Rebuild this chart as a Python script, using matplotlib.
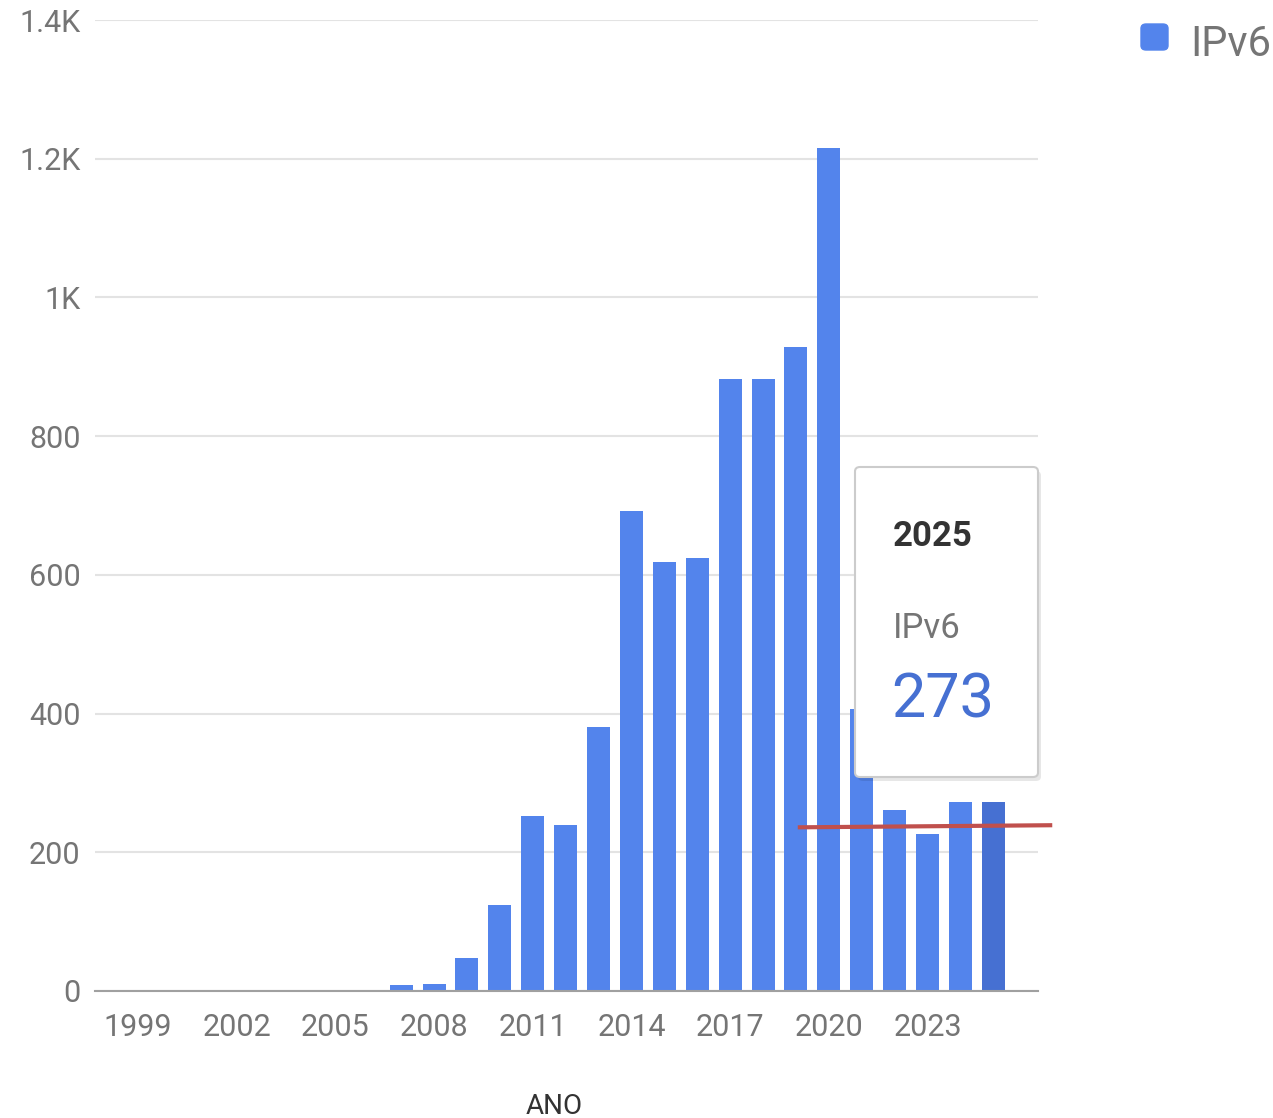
import matplotlib.pyplot as plt
from matplotlib.patches import FancyBboxPatch

plt.rcParams['font.family'] = ['Roboto', 'DejaVu Sans']

years = list(range(1999, 2026))
ipv6 = [0, 0, 0, 0, 0, 0, 0, 0, 9, 10, 47, 124, 252, 239, 380, 692, 618, 624,
        882, 883, 928, 1215, 406, 261, 226, 272, 273]
tick_years = list(range(1999, 2024, 3))
y_ticks = [0, 200, 400, 600, 800, 1000, 1200, 1400]
y_labels = ['0', '200', '400', '600', '800', '1K', '1.2K', '1.4K']

fig = plt.figure(figsize=(12.73, 11.18), dpi=100)
ax = fig.add_axes([0.0746, 0.1136, 0.7408, 0.8685])

colors = ['#5384ec'] * len(years)
colors[-1] = '#4670d2'
ax.bar(years, ipv6, width=0.7, color=colors, zorder=2)

ax.set_xlim(1997.69, 2026.36)
ax.set_ylim(0, 1400)
ax.set_yticks(y_ticks)
ax.set_yticklabels(y_labels)
ax.set_xticks(tick_years)
ax.tick_params(axis='both', length=0, labelsize=22, colors='#757575')
ax.tick_params(axis='y', pad=10.5)
ax.tick_params(axis='x', pad=16)
ax.grid(axis='y', color='#e3e3e3', linewidth=1.5, zorder=0)
for s in ['top', 'right', 'left']:
    ax.spines[s].set_visible(False)
ax.spines['bottom'].set_color('#a0a0a0')
ax.spines['bottom'].set_linewidth(1.5)
fig.text(554 / 1273, 1 - 1107 / 1118, 'ANO', fontsize=20, color='#333333',
         ha='center', va='center')

# legend
fig.patches.append(FancyBboxPatch((1141 / 1273, 1 - 50 / 1118), 27 / 1273, 26 / 1118,
                                  boxstyle='round,pad=0,rounding_size=0.004',
                                  transform=fig.transFigure, color='#5384ec'))
fig.text(1190 / 1273, 1 - 44 / 1118, 'IPv6', fontsize=30, color='#757575', va='center')

# tooltip
tip = FancyBboxPatch((855 / 1273, 1 - 777 / 1118), 183 / 1273, 310 / 1118,
                     boxstyle='round,pad=0,rounding_size=0.004',
                     transform=fig.transFigure, facecolor='white',
                     edgecolor='#cccccc', linewidth=1.5, zorder=5)
shadow = FancyBboxPatch((858 / 1273, 1 - 781 / 1118), 183 / 1273, 310 / 1118,
                        boxstyle='round,pad=0,rounding_size=0.004',
                        transform=fig.transFigure, facecolor='#00000018',
                        edgecolor='none', zorder=4)
fig.patches.append(shadow)
fig.patches.append(tip)
fig.text(893 / 1273, 1 - 536 / 1118, '2025', fontsize=25, fontweight='bold',
         color='#333333', va='center', zorder=6)
fig.text(893 / 1273, 1 - 629 / 1118, 'IPv6', fontsize=25, color='#757575',
         va='center', zorder=6)
fig.text(891 / 1273, 1 - 701 / 1118, '273', fontsize=44, color='#4670d2',
         va='center', zorder=6)

# red marker line
ax.plot([2019.12, 2026.73], [236, 239], color='#c0504d', linewidth=3,
        clip_on=False, zorder=7)

fig.savefig('out.png', dpi=100)
